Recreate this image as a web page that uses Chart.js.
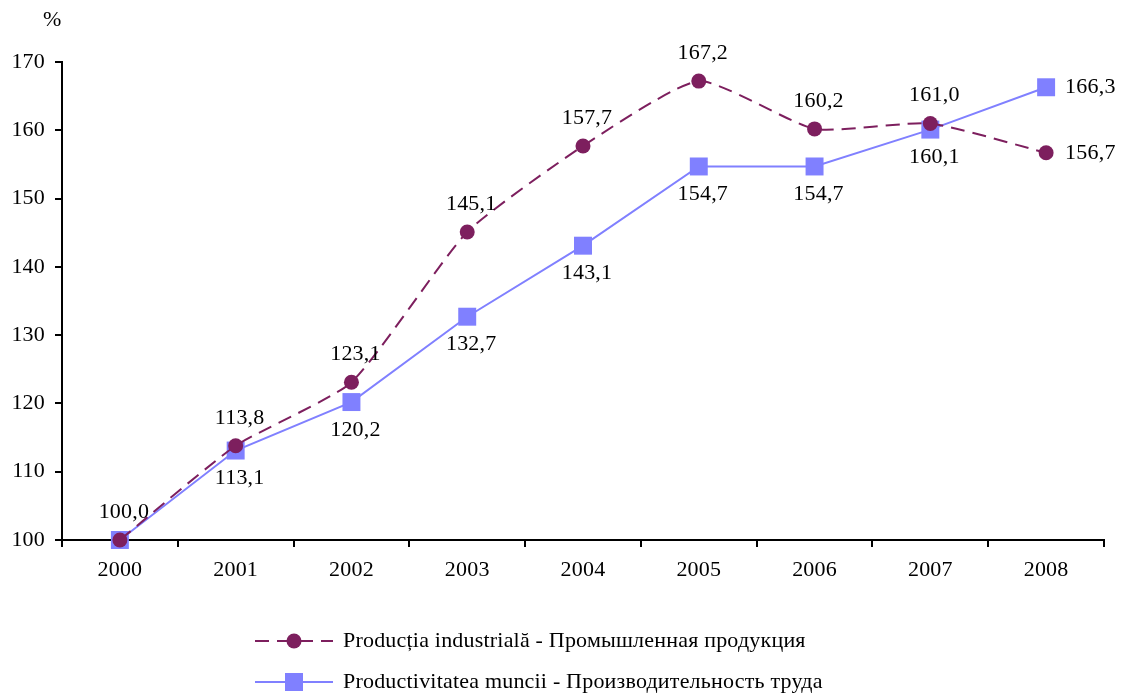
<!DOCTYPE html>
<html>
<head>
<meta charset="utf-8">
<script src="https://cdn.jsdelivr.net/npm/chart.js@4.4.0/dist/chart.umd.min.js"></script>
<style>
  html, body { margin: 0; padding: 0; background: #fff; }
  #wrap { width: 1121px; height: 695px; }
</style>
</head>
<body>
<div id="wrap"><canvas id="c" width="1121" height="695"></canvas></div>
<script>
const categories = ['2000', '2001', '2002', '2003', '2004', '2005', '2006', '2007', '2008'];
const productiaIndustriala = [100.0, 113.8, 123.1, 145.1, 157.7, 167.2, 160.2, 161.0, 156.7];
const productivitateaMuncii = [100.0, 113.1, 120.2, 132.7, 143.1, 154.7, 154.7, 160.1, 166.3];
const yTicks = [100, 110, 120, 130, 140, 150, 160, 170];
const seriesNames = [
  'Producția industrială - Промышленная продукция',
  'Productivitatea muncii - Производительность труда'
];
// label placement per point: 'above', 'below', 'right', or null (hidden)
const labelPos1 = ['above', 'above', 'above', 'above', 'above', 'above', 'above', 'above', 'right'];
const labelPos2 = [null, 'below', 'below', 'below', 'below', 'below', 'below', 'below', 'right'];

const PURPLE = '#7D1F5E';
const BLUE = '#8080FF';
const FONT = "'Liberation Serif', 'Times New Roman', serif";
const FSIZE = 22;
const SPACING = '0.2px';

function fmt(v) { return v.toFixed(1).replace('.', ','); }

const spacingPlugin = {
  id: 'spacing',
  beforeDraw(chart) { chart.ctx.letterSpacing = SPACING; }
};

const labelsPlugin = {
  id: 'pointLabels',
  afterDatasetsDraw(chart) {
    const ctx = chart.ctx;
    ctx.save();
    ctx.letterSpacing = SPACING;
    ctx.font = FSIZE + 'px ' + FONT;
    ctx.fillStyle = '#000';
    const posArr = [labelPos1, labelPos2];
    chart.data.datasets.forEach((ds, di) => {
      const meta = chart.getDatasetMeta(di);
      meta.data.forEach((pt, i) => {
        const pos = posArr[di][i];
        if (!pos) return;
        const txt = fmt(ds.data[i]);
        ctx.textBaseline = 'middle';
        if (pos === 'above') {
          ctx.textAlign = 'center';
          ctx.fillText(txt, pt.x + 4, pt.y - 28);
        } else if (pos === 'below') {
          ctx.textAlign = 'center';
          ctx.fillText(txt, pt.x + 4, pt.y + 28);
        } else {
          ctx.textAlign = 'left';
          ctx.fillText(txt, pt.x + 19, pt.y);
        }
      });
    });
    ctx.restore();
  }
};

const extrasPlugin = {
  id: 'extras',
  afterDraw(chart) {
    const ctx = chart.ctx;
    ctx.save();
    ctx.letterSpacing = SPACING;
    ctx.font = FSIZE + 'px ' + FONT;
    ctx.fillStyle = '#000';
    ctx.textBaseline = 'middle';
    ctx.textAlign = 'left';
    // unit label
    ctx.fillText('%', 43, 20);
    // legend
    const rows = [641, 682];
    const x0 = 255, x1 = 333, xm = 294, tx = 343;
    ctx.strokeStyle = PURPLE;
    ctx.lineWidth = 2;
    ctx.setLineDash([14, 8]);
    ctx.beginPath(); ctx.moveTo(x0, rows[0]); ctx.lineTo(x1, rows[0]); ctx.stroke();
    ctx.setLineDash([]);
    ctx.fillStyle = PURPLE;
    ctx.beginPath(); ctx.arc(xm, rows[0], 7.5, 0, Math.PI * 2); ctx.fill();
    ctx.strokeStyle = BLUE;
    ctx.beginPath(); ctx.moveTo(x0, rows[1]); ctx.lineTo(x1, rows[1]); ctx.stroke();
    ctx.fillStyle = BLUE;
    ctx.fillRect(xm - 9, rows[1] - 9, 18, 18);
    ctx.fillStyle = '#000';
    ctx.fillText(seriesNames[0], tx, rows[0]);
    ctx.fillText(seriesNames[1], tx, rows[1]);
    ctx.restore();
  }
};

new Chart(document.getElementById('c'), {
  type: 'line',
  data: {
    labels: categories,
    datasets: [
      {
        label: seriesNames[0],
        data: productiaIndustriala,
        borderColor: PURPLE,
        backgroundColor: PURPLE,
        borderWidth: 2,
        borderDash: [14, 8],
        tension: 0.18,
        pointStyle: 'circle',
        pointRadius: 7.5,
        pointHoverRadius: 7.5,
        pointBorderWidth: 0,
        fill: false
      },
      {
        label: seriesNames[1],
        data: productivitateaMuncii,
        borderColor: BLUE,
        backgroundColor: BLUE,
        borderWidth: 2,
        tension: 0,
        pointStyle: 'rect',
        pointRadius: 12.7,
        pointHoverRadius: 12.7,
        pointBorderWidth: 0,
        fill: false
      }
    ]
  },
  options: {
    responsive: false,
    animation: false,
    events: [],
    clip: false,
    layout: { padding: { left: 0, right: 17, top: 62, bottom: 95 } },
    plugins: {
      legend: { display: false },
      tooltip: { enabled: false },
      title: { display: false }
    },
    scales: {
      x: {
        offset: true,
        grid: {
          offset: true,
          drawOnChartArea: false,
          drawTicks: true,
          tickLength: 7,
          color: '#000',
          lineWidth: 2
        },
        border: { display: true, color: '#000', width: 2 },
        ticks: {
          color: '#000',
          font: { family: FONT, size: FSIZE },
          padding: 10,
          maxRotation: 0,
          autoSkip: false
        },
        afterFit(scale) { scale.height = 60; }
      },
      y: {
        min: 100,
        max: 170,
        afterBuildTicks(scale) { scale.ticks = yTicks.map(v => ({ value: v })); },
        grid: {
          drawOnChartArea: false,
          drawTicks: true,
          tickLength: 7,
          color: '#000',
          lineWidth: 2
        },
        border: { display: true, color: '#000', width: 2 },
        ticks: {
          color: '#000',
          font: { family: FONT, size: FSIZE },
          padding: 10,
          callback: v => String(v)
        },
        afterFit(scale) { scale.width = 62; }
      }
    }
  },
  plugins: [spacingPlugin, labelsPlugin, extrasPlugin]
});
</script>
</body>
</html>
